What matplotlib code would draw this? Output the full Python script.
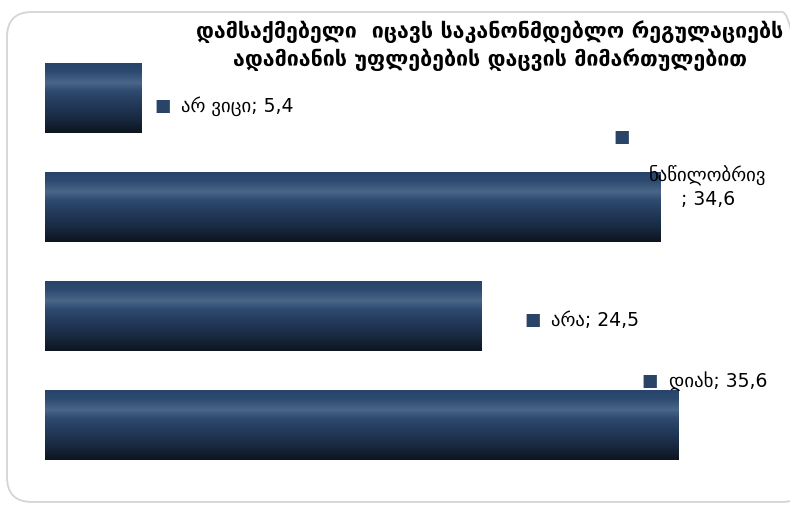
import numpy as np
import matplotlib.pyplot as plt
from matplotlib.colors import LinearSegmentedColormap
from matplotlib.patches import FancyBboxPatch

plt.rcParams['font.family'] = ['DejaVu Sans']

# answers, top to bottom
categories = ['არ ვიცი', 'ნაწილობრივ', 'არა', 'დიახ']
values = [5.4, 34.6, 24.5, 35.6]
title = 'დამსაქმებელი  იცავს საკანონმდებლო რეგულაციებს\nადამიანის უფლებების დაცვის მიმართულებით'

# label placement (offset in pixels from bar end / bar centre)
label_offsets = [(13, -8), (-47, 70), (43, -4), (-37, 44)]

bar_cmap = LinearSegmentedColormap.from_list('bar', [
    (0.00, '#28446a'),
    (0.12, '#2c4a70'),
    (0.28, '#4a6689'),
    (0.40, '#2f4b70'),
    (0.55, '#253d5e'),
    (0.75, '#1b2d47'),
    (1.00, '#0d1520'),
])

W, H = 790, 507
fig = plt.figure(figsize=(W / 100, H / 100), dpi=100)

# rounded frame around the chart area (inches)
frame = FancyBboxPatch((0.07, 0.05), 8.0, 4.9,
                       boxstyle='round,pad=0,rounding_size=0.25',
                       transform=fig.dpi_scale_trans, facecolor='none',
                       edgecolor='#d4d4d4', linewidth=1.3, zorder=-1)
fig.patches.append(frame)

x0 = 45
px_per_unit = 17.8
xmax = 40
ax = fig.add_axes([x0 / W, 0, xmax * px_per_unit / W, 1])
ax.axis('off')
ax.patch.set_alpha(0)

bar_h = 70 / 109
grad = np.linspace(0, 1, 256).reshape(-1, 1)
y = np.arange(len(categories))
bars = ax.barh(y, values, height=bar_h, color='none', edgecolor='none')
for rect in bars:
    bx, by = rect.get_x(), rect.get_y()
    bw, bh = rect.get_width(), rect.get_height()
    im = ax.imshow(grad, cmap=bar_cmap, aspect='auto',
                   extent=[bx, bx + bw, by + bh, by], zorder=2)
    im.set_clip_path(rect)
ax.set_xlim(0, xmax)
# centres at 98 px, step 109 px
ax.set_ylim((H - 98) / 109, -98 / 109)

# data labels with legend key squares
for i, (cat, val) in enumerate(zip(categories, values)):
    dx, dy = label_offsets[i]
    txt = f'{cat}; {val:.1f}'.replace('.', ',')
    ax.annotate('■', (val, i), xytext=(dx, dy), textcoords='offset pixels',
                ha='left', va='center', fontsize=12.5, color='#2a4468',
                annotation_clip=False)
    if i == 1:
        ax.annotate(f'{cat}\n; {val:.1f}'.replace('.', ','), (val, i),
                    xytext=(dx + 94, dy - 50), textcoords='offset pixels',
                    ha='center', va='center', fontsize=13.5, color='black',
                    linespacing=1.35, annotation_clip=False)
    else:
        ax.annotate(txt, (val, i), xytext=(dx + 27, dy), textcoords='offset pixels',
                    ha='left', va='center', fontsize=13.5, color='black',
                    annotation_clip=False)

fig.text(490 / W, 1 - 46 / H, title, ha='center', va='center',
         fontsize=15.4, fontweight='bold', linespacing=1.3)

fig.savefig('out.png', dpi=100)
